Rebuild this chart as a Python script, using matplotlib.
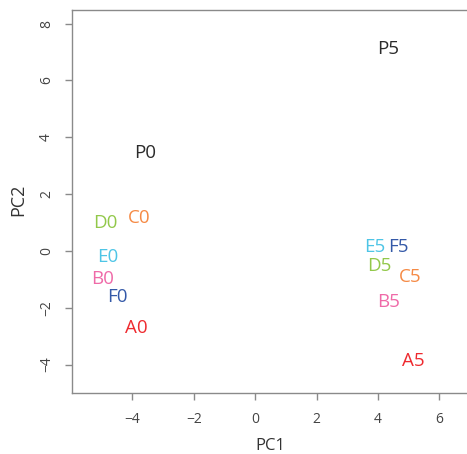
import matplotlib
matplotlib.use("Agg")
import matplotlib.pyplot as plt

# PCA scores for each sample
samples = ["P5", "P0", "C0", "D0", "E0", "B0", "F0", "A0",
           "E5", "F5", "D5", "C5", "B5", "A5"]
pc1 = [4.33, -3.59, -3.78, -4.89, -4.82, -4.98, -4.48, -3.86,
       3.90, 4.65, 4.03, 5.06, 4.33, 5.14]
pc2 = [7.10, 3.46, 1.15, 0.97, -0.23, -1.00, -1.63, -2.72,
       0.15, 0.13, -0.52, -0.90, -1.78, -3.89]

group_colors = {
    "P": "#2b2b2b",
    "A": "#ee2a2f",
    "B": "#ef6aa8",
    "C": "#f58a45",
    "D": "#92c84a",
    "E": "#4ec5e6",
    "F": "#3459a8",
}

xticks = [-4, -2, 0, 2, 4, 6]
yticks = [-4, -2, 0, 2, 4, 6, 8]

plt.rcParams["font.family"] = ["Open Sans", "DejaVu Sans"]

W, H = 467, 454
fig = plt.figure(figsize=(W / 100, H / 100), dpi=100)
ax_left, ax_right, ax_top, ax_bot = 72, 468, 10, 393
ax = fig.add_axes([ax_left / W, (H - ax_bot) / H,
                   (ax_right - ax_left) / W, (ax_bot - ax_top) / H])

for name, x, y in zip(samples, pc1, pc2):
    ax.text(x, y, name, color=group_colors[name[0]], fontsize=13.5,
            ha="center", va="center")

ax.set_xlim(-5.97, 6.93)
ax.set_ylim(-5.0, 8.48)

ax.set_xticks(xticks)
ax.set_yticks(yticks)
ax.set_xticklabels([str(t).replace("-", "\u2212") for t in xticks])
ax.set_yticklabels([str(t).replace("-", "\u2212") for t in yticks],
                   rotation=90, va="center")

for s in ax.spines.values():
    s.set_color("#8a8a8a")
    s.set_linewidth(1.0)

ax.tick_params(axis="both", direction="out", length=5, width=1.0,
               color="#8a8a8a", labelcolor="#444444", labelsize=10)
ax.tick_params(axis="x", pad=9)
ax.tick_params(axis="y", pad=8)

fig.text(270 / W, 1 - 446 / H, "PC1", ha="center", va="center",
         fontsize=12, color="#333333")
fig.text(18 / W, 1 - 200 / H, "PC2", ha="center", va="center",
         fontsize=13, color="#333333", rotation=90)

fig.savefig("out.png", dpi=100)
